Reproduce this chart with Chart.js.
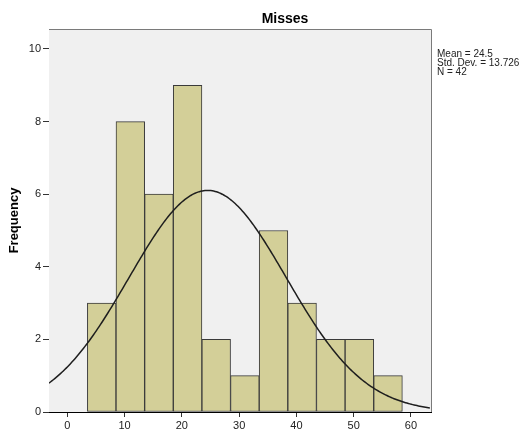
<!DOCTYPE html>
<html>
<head>
<meta charset="utf-8">
<script src="https://cdn.jsdelivr.net/npm/chart.js@4/dist/chart.umd.min.js"></script>
<style>
  html, body { margin: 0; padding: 0; background: #ffffff; }
  #wrap { width: 524px; height: 441px; position: relative; }
</style>
</head>
<body>
<div id="wrap"><canvas id="c" width="524" height="441"></canvas></div>
<script>
// Histogram of misses: bin centres and counts
const binCenters = [6, 11, 16, 21, 26, 31, 36, 41, 46, 51, 56];
const binCounts  = [3, 8, 6, 9, 2, 1, 5, 3, 2, 2, 1];
const binWidth = 5;

// Summary statistics shown beside the plot
const meanValue = 24.5;
const stdDev = 13.726;
const nCases = 42;
const statLines = ['Mean = 24.5', 'Std. Dev. = 13.726', 'N = 42'];

const xTicks = [0, 10, 20, 30, 40, 50, 60];
const yTicks = [0, 2, 4, 6, 8, 10];
const xMin = -3.2, xMax = 63.5;
const yMin = 0, yMax = 10.55;

// Fitted normal curve scaled to histogram counts
function normalCount(x) {
  const z = (x - meanValue) / stdDev;
  return nCases * binWidth * Math.exp(-0.5 * z * z) / (stdDev * Math.sqrt(2 * Math.PI));
}
const curvePoints = [];
for (let x = xMin; x <= xMax + 1e-9; x += 0.25) {
  curvePoints.push({ x: x, y: normalCount(x) });
}

const FONT = '"Liberation Sans", Arial, sans-serif';

const frame = {
  id: 'frame',
  beforeDatasetsDraw(chart) {
    const { ctx, chartArea: a } = chart;
    ctx.save();
    ctx.fillStyle = '#f0f0f0';
    ctx.fillRect(a.left, a.top, a.right - a.left, a.bottom - a.top);
    ctx.restore();
  },
  afterDraw(chart) {
    const { ctx, chartArea: a } = chart;
    ctx.save();
    ctx.strokeStyle = '#7a7a7a';
    ctx.lineWidth = 1;
    ctx.beginPath();
    ctx.moveTo(a.left, a.top + 0.5);
    ctx.lineTo(a.right + 0.5, a.top + 0.5);
    ctx.lineTo(a.right + 0.5, a.bottom);
    ctx.stroke();

    ctx.fillStyle = '#000';
    ctx.font = 'bold 14px ' + FONT;
    ctx.textAlign = 'center';
    ctx.textBaseline = 'middle';
    ctx.fillText('Misses', 285, 19);

    ctx.fillStyle = '#222';
    ctx.font = '10px ' + FONT;
    ctx.textAlign = 'left';
    statLines.forEach((t, i) => ctx.fillText(t, 437, 54.5 + i * 8.8));
    ctx.restore();
  }
};

new Chart(document.getElementById('c'), {
  type: 'bar',
  data: {
    datasets: [
      {
        type: 'line',
        data: curvePoints,
        borderColor: '#1e1e1e',
        borderWidth: 1.5,
        pointRadius: 0,
        tension: 0,
        fill: false,
        order: 0
      },
      {
        type: 'bar',
        data: binCenters.map((c, i) => ({ x: c, y: binCounts[i] })),
        backgroundColor: '#d3cf98',
        borderColor: '#3a3a3a',
        borderWidth: 1,
        borderSkipped: false,
        barPercentage: 1,
        categoryPercentage: 1,
        order: 1
      }
    ]
  },
  options: {
    responsive: false,
    animation: false,
    devicePixelRatio: 1,
    layout: { padding: { left: 0, top: 29, right: 93, bottom: 0 } },
    plugins: {
      legend: { display: false },
      tooltip: { enabled: false },
      title: { display: false }
    },
    scales: {
      x: {
        type: 'linear',
        min: xMin,
        max: xMax,
        offset: false,
        afterBuildTicks(s) { s.ticks = xTicks.map(v => ({ value: v })); },
        afterFit(s) { s.height = 29; },
        grid: {
          offset: false,
          drawOnChartArea: false,
          drawTicks: true,
          tickLength: 5,
          color: '#333'
        },
        border: { display: true, color: '#000', width: 1 },
        ticks: {
          padding: 2,
          color: '#222',
          font: { family: FONT, size: 11 },
          maxRotation: 0
        }
      },
      y: {
        type: 'linear',
        min: yMin,
        max: yMax,
        afterBuildTicks(s) { s.ticks = yTicks.map(v => ({ value: v })); },
        afterFit(s) { s.width = 49; },
        grid: {
          drawOnChartArea: false,
          drawTicks: true,
          tickLength: 6,
          color: '#333'
        },
        border: { display: true, color: '#000', width: 1 },
        ticks: {
          padding: 2,
          color: '#222',
          font: { family: FONT, size: 11 }
        },
        title: {
          display: true,
          text: 'Frequency',
          color: '#000',
          font: { family: FONT, size: 13, weight: 'bold' },
          padding: { top: 7, bottom: 0 }
        }
      }
    }
  },
  plugins: [frame]
});
</script>
</body>
</html>
